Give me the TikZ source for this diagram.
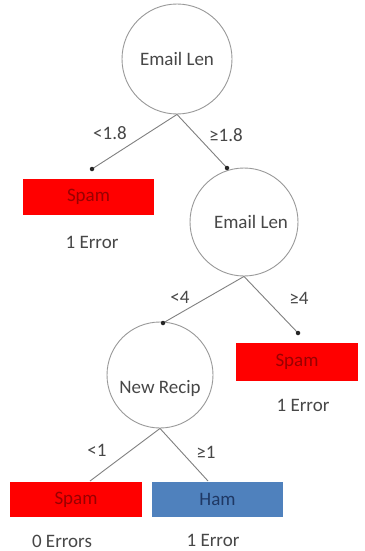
\documentclass[tikz,border=0pt]{standalone}
\usepackage{fontspec}
\setmainfont{Carlito}
\begin{document}
\begin{tikzpicture}[x=1pt,y=-1pt,
  lbl/.style={font=\fontsize{19}{22}\selectfont, text=black!72, inner sep=0.5pt},
  dec/.style={circle, draw=black!40, line width=0.9pt, font=\fontsize{19}{22}\selectfont, text=black!72, inner sep=0pt},
  leafred/.style={draw=none, fill=red, minimum width=131pt, minimum height=36pt, inner sep=0pt, font=\fontsize{19}{22}\selectfont, text=red!60!black},
  leafblue/.style={draw=none, fill={rgb,255:red,79;green,129;blue,189}, minimum width=131pt, minimum height=36pt, inner sep=0pt, font=\fontsize{19}{22}\selectfont, text={rgb,255:red,31;green,56;blue,100}},
  edge/.style={draw=black!50, line width=0.9pt},
  tipdot/.style={circle, fill=black!85, inner sep=0pt, minimum size=4.5pt}
]
\useasboundingbox (0,0) rectangle (364,551);
\fill[white] (0,0) rectangle (364,551);

% decision nodes
\node[dec, minimum size=110pt] (c1) at (177,59) {Email Len};
\node[dec, minimum size=108pt] (c2) at (244,222) {\hspace{14pt}Email Len};
\node[dec, minimum size=106pt] (c3) at (160,375) {\raisebox{-18pt}[0pt][0pt]{New Recip}};

% leaves
\node[leafred] (s1) at (88.5,197) {Spam};
\node[leafred, minimum width=122pt, minimum height=38pt] (s2) at (297,362) {Spam};
\node[leafred, minimum width=132pt, minimum height=35pt] (s3) at (76,499.5) {Spam};
\node[leafblue, minimum height=35pt] (h) at (217.5,499.5) {Ham};

% error labels
\node[lbl] (e1) at (92,242) {1 Error};
\node[lbl] (e2) at (303,405) {1 Error};
\node[lbl] (e3) at (62,541) {0 Errors};
\node[lbl] (e4) at (213,540) {1 Error};

% connector end points
\coordinate (d1) at (92,169);
\coordinate (d2) at (227,168);
\coordinate (d3) at (163,323);
\coordinate (d4) at (298,333);
\coordinate (d5) at (90,481);
\coordinate (d6) at (208,481);

% connectors
\draw[edge] (c1.south) -- (d1);
\draw[edge] (c1.south) -- (d2);
\draw[edge] (c2.south) -- (d3);
\draw[edge] (c2.south) -- (d4);
\draw[edge] (c3.south) -- (d5);
\draw[edge] (c3.south) -- (d6);
\node[tipdot] (t1) at (d1) {};
\node[tipdot] (t2) at (d2) {};
\node[tipdot] (t3) at (d3) {};
\node[tipdot] (t4) at (d4) {};

% edge labels
\node[lbl] (l1) at (110,133) {<1.8};
\node[lbl] (l2) at (226,135) {≥1.8};
\node[lbl] (l3) at (180,297) {<4};
\node[lbl] (l4) at (299,298) {≥4};
\node[lbl] (l5) at (97,450) {<1};
\node[lbl] (l6) at (206,452) {≥1};
\end{tikzpicture}
\end{document}
